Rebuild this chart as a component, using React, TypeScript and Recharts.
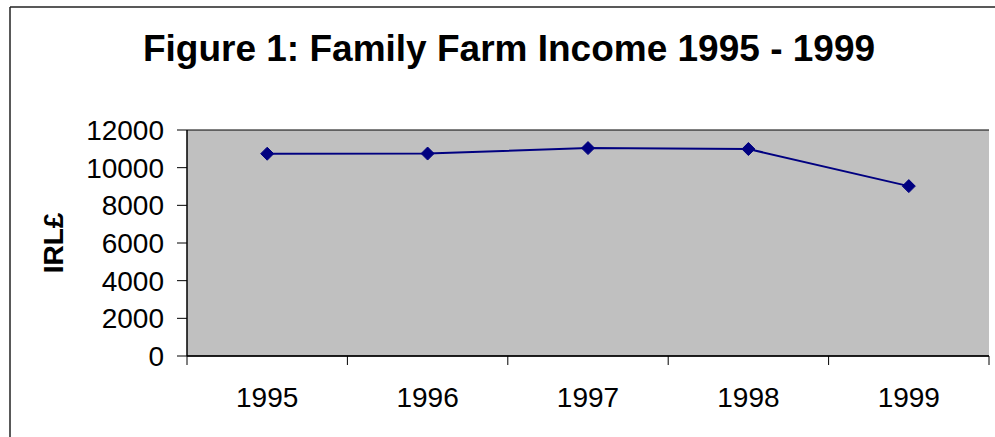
import React from 'react';
import { LineChart, Line, XAxis, YAxis, CartesianGrid } from 'recharts';

const years = ['1995', '1996', '1997', '1998', '1999'];
const income = [10740, 10750, 11040, 10990, 9020];
const yTicks = [0, 2000, 4000, 6000, 8000, 10000, 12000];
const titleText = 'Figure 1: Family Farm Income 1995 - 1999';
const yLabel = 'IRL£';

const data = years.map((y, i) => ({ year: y, income: income[i] }));

const FONT = '"Liberation Sans", Arial, sans-serif';

const XTick = (props: any) => {
  const { x, y, payload, index, visibleTicksCount } = props;
  const off = payload.offset || 0;
  const axisY = y - 31;
  return (
    <g>
      <line x1={x - off} x2={x - off} y1={axisY} y2={axisY + 9} stroke="#000" strokeWidth={1} />
      {index === visibleTicksCount - 1 && (
        <line x1={x + off} x2={x + off} y1={axisY} y2={axisY + 9} stroke="#000" strokeWidth={1} />
      )}
      <text x={x} y={y + 20} textAnchor="middle" fontSize={28} fontFamily={FONT} fill="#000">
        {payload.value}
      </text>
    </g>
  );
};

const Diamond = (props: any) => {
  const { cx, cy, index } = props;
  if (cx == null || cy == null) return null;
  const r = 6.5;
  return (
    <polygon
      key={`d-${index}`}
      points={`${cx},${cy - r} ${cx + r},${cy} ${cx},${cy + r} ${cx - r},${cy}`}
      fill="#000080"
      stroke="#000080"
    />
  );
};

const YLabel = (props: any) => {
  const { viewBox } = props;
  const cx = 53;
  const cy = viewBox.y + viewBox.height / 2;
  return (
    <text
      x={cx}
      y={cy}
      transform={`rotate(-90 ${cx} ${cy})`}
      textAnchor="middle"
      dominantBaseline="central"
      fontSize={28}
      fontWeight="bold"
      fontFamily={FONT}
      fill="#000"
    >
      {yLabel}
    </text>
  );
};

export default function App() {
  return (
    <div
      style={{
        position: 'absolute',
        left: 0,
        top: 0,
        width: 995,
        height: 437,
        overflow: 'hidden',
        background: '#fff',
      }}
    >
      <LineChart
        width={995}
        height={437}
        data={data}
        margin={{ top: 130, right: 6, bottom: 0, left: 0 }}
        style={{ fontFamily: FONT }}
      >
        <CartesianGrid vertical={false} stroke="#000" fill="#C0C0C0" strokeWidth={1} />
        <XAxis
          dataKey="year"
          scale="band"
          xAxisId="main"
          tickLine={false}
          tickSize={9}
          tickMargin={22}
          axisLine={{ stroke: '#000', strokeWidth: 1.5 }}
          tick={<XTick />}
          interval={0}
          height={81}
        />
        <XAxis
          dataKey="year"
          scale="band"
          xAxisId="top"
          orientation="top"
          height={0}
          tick={false}
          tickLine={false}
          axisLine={{ stroke: '#808080', strokeWidth: 2 }}
        />
        <YAxis
          yAxisId="left"
          domain={[0, 12000]}
          ticks={yTicks}
          interval={0}
          width={187}
          tickSize={10}
          tickMargin={13}
          tickLine={{ stroke: '#000' }}
          axisLine={{ stroke: '#000', strokeWidth: 1.5 }}
          tick={{ fontSize: 28, fill: '#000', fontFamily: FONT }}
          label={<YLabel />}
        />
        <YAxis
          yAxisId="right"
          orientation="right"
          domain={[0, 12000]}
          width={0}
          tick={false}
          tickLine={false}
          axisLine={{ stroke: '#808080', strokeWidth: 2 }}
        />
        <Line
          xAxisId="main"
          yAxisId="left"
          dataKey="income"
          stroke="#000080"
          strokeWidth={2}
          dot={<Diamond />}
          activeDot={false}
          isAnimationActive={false}
        />
      </LineChart>
      <svg
        width={995}
        height={437}
        style={{ position: 'absolute', left: 0, top: 0, pointerEvents: 'none' }}
      >
        <line x1={10} y1={7} x2={995} y2={7} stroke="#222" strokeWidth={1.5} />
        <line x1={10} y1={7} x2={10} y2={437} stroke="#222" strokeWidth={1.5} />
        <text
          x={509}
          y={61}
          textAnchor="middle"
          fontSize={37}
          fontWeight="bold"
          fontFamily={FONT}
          fill="#000"
        >
          {titleText}
        </text>
      </svg>
    </div>
  );
}
